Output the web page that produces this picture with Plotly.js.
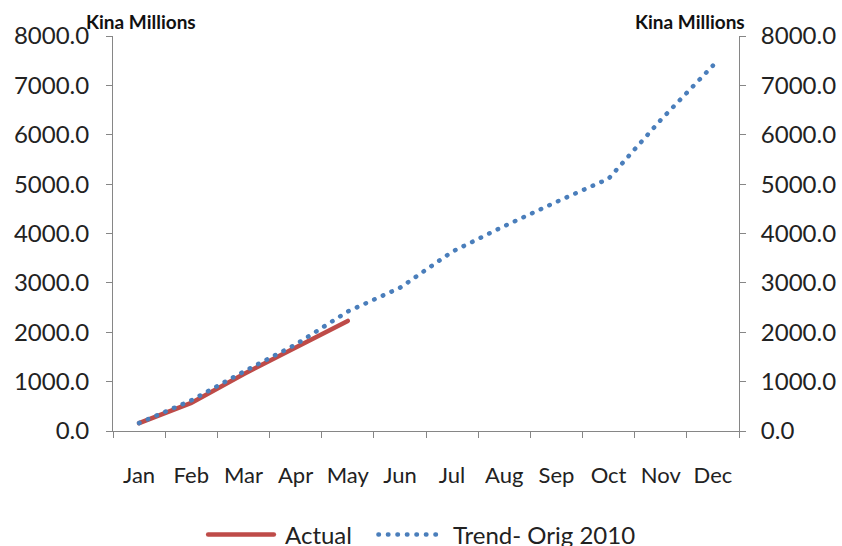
<!DOCTYPE html>
<html>
<head>
<meta charset="utf-8">
<script src="https://cdn.plot.ly/plotly-3.0.1.min.js"></script>
<style>
html,body{margin:0;padding:0;background:#fff;}
#chart{width:842px;height:546px;}
#chart path.js-line, #chart .shapelayer path{stroke-linecap:round;}
</style>
</head>
<body>
<div id="chart"></div>
<script>
const months = ["Jan","Feb","Mar","Apr","May","Jun","Jul","Aug","Sep","Oct","Nov","Dec"];
const actual = [160, 570, 1150, 1700, 2230];
const trend = [160, 620, 1200, 1750, 2420, 2900, 3630, 4150, 4640, 5110, 6300, 7400];
const yTicks = [0,1000,2000,3000,4000,5000,6000,7000,8000];
const seriesNames = ["Actual", "Trend- Orig 2010"];

const FONT = "Lato, 'Open Sans', sans-serif";
const axisColor = "#868686";
const RED = "#BE4B48", BLUE = "#4A7EBB";
const DOTS = "0.5px,9px";

const traces = [
  {x: months.slice(0, actual.length), y: actual, name: seriesNames[0], type: "scatter", mode: "lines",
   line: {color: RED, width: 4.5}},
  {x: months, y: trend, name: seriesNames[1], type: "scatter", mode: "lines",
   line: {color: BLUE, width: 4.5, dash: DOTS}},
  {x: months, y: trend, yaxis: "y2", showlegend: false, hoverinfo: "skip", type: "scatter", mode: "lines",
   line: {color: "rgba(0,0,0,0)", width: 0}}
];

const yCommon = {
  range: [0, 8000], tickvals: yTicks, tickformat: ".1f", showgrid: false, zeroline: false,
  showline: true, linecolor: axisColor, linewidth: 1, ticks: "outside", ticklen: 6, tickcolor: axisColor,
  tickfont: {family: FONT, size: 24, color: "#222"}, fixedrange: true
};

const legY = -0.262;
const layout = {
  width: 842, height: 546,
  margin: {l: 113, r: 103, t: 36, b: 115, autoexpand: false},
  paper_bgcolor: "#fff", plot_bgcolor: "#fff",
  font: {family: FONT, color: "#222"},
  xaxis: {
    type: "category", categoryorder: "array", categoryarray: months,
    range: [-0.5, 11.5], showgrid: false, zeroline: false,
    showline: true, linecolor: axisColor, linewidth: 1,
    ticks: "outside", tickson: "boundaries", ticklen: 6, tickcolor: axisColor,
    tickfont: {family: FONT, size: 22, color: "#222"}, ticklabelstandoff: 25
  },
  yaxis: Object.assign({}, yCommon, {side: "left", ticklabelstandoff: 12}),
  yaxis2: Object.assign({}, yCommon, {side: "right", overlaying: "y", ticklabelstandoff: 10}),
  showlegend: false,
  shapes: [
    {type: "line", xref: "paper", yref: "paper", x0: 0.152, x1: 0.257, y0: legY, y1: legY,
     line: {color: RED, width: 4.5}},
    {type: "line", xref: "paper", yref: "paper", x0: 0.424, x1: 0.522, y0: legY, y1: legY,
     line: {color: BLUE, width: 4.5, dash: DOTS}}
  ],
  annotations: [
    {xref: "paper", yref: "paper", x: -0.047, y: 1.003, xanchor: "left", yanchor: "bottom",
     text: "<b>Kina Millions</b>", showarrow: false, font: {family: FONT, size: 19, color: "#111"}},
    {xref: "paper", yref: "paper", x: 1.012, y: 1.003, xanchor: "right", yanchor: "bottom",
     text: "<b>Kina Millions</b>", showarrow: false, font: {family: FONT, size: 19, color: "#111"}},
    {xref: "paper", yref: "paper", x: 0.272, y: legY, xanchor: "left", yanchor: "middle",
     text: seriesNames[0], showarrow: false, font: {family: FONT, size: 24, color: "#222"}},
    {xref: "paper", yref: "paper", x: 0.54, y: legY, xanchor: "left", yanchor: "middle",
     text: seriesNames[1], showarrow: false, font: {family: FONT, size: 24, color: "#222"}}
  ]
};

Plotly.newPlot("chart", traces, layout, {staticPlot: true, displayModeBar: false});
</script>
</body>
</html>
